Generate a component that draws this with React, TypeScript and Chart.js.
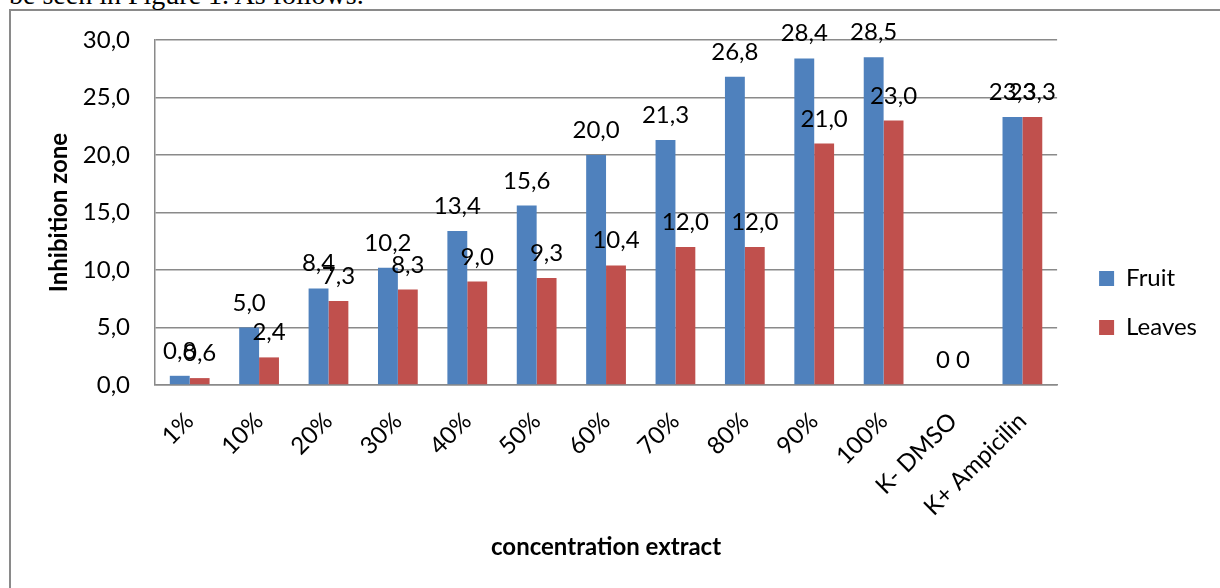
import React, { useEffect, useRef } from 'react';
import { Chart, registerables } from 'chart.js';

Chart.register(...registerables);

const categories = ['1%', '10%', '20%', '30%', '40%', '50%', '60%', '70%', '80%', '90%', '100%', 'K- DMSO', 'K+ Ampicilin'];
const fruitValues = [0.8, 5.0, 8.4, 10.2, 13.4, 15.6, 20.0, 21.3, 26.8, 28.4, 28.5, 0, 23.3];
const leavesValues = [0.6, 2.4, 7.3, 8.3, 9.0, 9.3, 10.4, 12.0, 12.0, 21.0, 23.0, 0, 23.3];
const seriesNames = ['Fruit', 'Leaves'];
const seriesColors = ['#4F81BD', '#C0504D'];
const yMin = 0;
const yMax = 30;
const yStep = 5;
const yTitle = 'Inhibition zone';
const xTitle = 'concentration extract';
const captionText = 'be seen in Figure 1. As follows.';

const FONT = 'Lato, "Open Sans", sans-serif';
const GRID = '#8a8a8a';

const fmt = (v: number) => (v === 0 ? '0' : v.toFixed(1).replace('.', ','));

const dataLabels = {
  id: 'dataLabels',
  afterDatasetsDraw(chart: any) {
    const ctx = chart.ctx;
    ctx.save();
    ctx.font = `24px ${FONT}`;
    ctx.fillStyle = '#000';
    ctx.textAlign = 'center';
    ctx.textBaseline = 'alphabetic';
    chart.data.datasets.forEach((ds: any, di: number) => {
      const meta = chart.getDatasetMeta(di);
      meta.data.forEach((el: any, i: number) => {
        ctx.fillText(fmt(ds.data[i]), el.x, el.y - 17);
      });
    });
    ctx.restore();
  },
};

export default function App() {
  const ref = useRef<HTMLCanvasElement | null>(null);

  useEffect(() => {
    if (!ref.current) return;
    const chart = new Chart(ref.current, {
      type: 'bar',
      data: {
        labels: categories,
        datasets: [
          { label: seriesNames[0], data: fruitValues, backgroundColor: seriesColors[0], categoryPercentage: 0.573, barPercentage: 1 },
          { label: seriesNames[1], data: leavesValues, backgroundColor: seriesColors[1], categoryPercentage: 0.573, barPercentage: 1 },
        ],
      },
      options: {
        animation: false,
        responsive: false,
        maintainAspectRatio: false,
        layout: { padding: { left: 0, right: 13, top: 29, bottom: 22 } },
        plugins: {
          legend: {
            position: 'right',
            align: 'center',
            labels: {
              boxWidth: 15,
              boxHeight: 15,
              padding: 25,
              color: '#000',
              font: { family: FONT, size: 24 },
            },
          },
          tooltip: { enabled: false },
        },
        scales: {
          x: {
            grid: { display: false, drawTicks: false },
            border: { display: true, color: GRID, width: 1.5 },
            ticks: {
              autoSkip: false,
              maxRotation: 45,
              minRotation: 45,
              padding: 22,
              color: '#000',
              font: { family: FONT, size: 24 },
            },
            title: {
              display: true,
              text: xTitle,
              color: '#000',
              font: { family: FONT, size: 24, weight: 'bold' },
              padding: { top: 0, bottom: 4.6 },
            },
            afterFit: (s: any) => { s.height = 181; },
          },
          y: {
            min: yMin,
            max: yMax,
            ticks: {
              stepSize: yStep,
              padding: 0,
              color: '#000',
              font: { family: FONT, size: 24 },
              callback: (v: any) => Number(v).toFixed(1).replace('.', ','),
            },
            grid: { color: GRID, lineWidth: 1.5, drawTicks: true, tickLength: 25, tickColor: 'rgba(0,0,0,0)' },
            border: { display: true, color: GRID, width: 1.5 },
            title: {
              display: true,
              text: yTitle,
              color: '#000',
              font: { family: FONT, size: 24, weight: 'bold' },
              padding: { top: 33.6, bottom: 0 },
            },
            afterFit: (s: any) => { s.width = 144; },
          },
          gap: {
            type: 'linear',
            position: 'right',
            display: true,
            grid: { display: false, drawTicks: false },
            ticks: { display: false },
            border: { display: false },
            afterFit: (s: any) => { s.width = 17; },
          },
        },
      } as any,
      plugins: [dataLabels],
    });
    return () => chart.destroy();
  }, []);

  return (
    <div style={{ position: 'absolute', left: 0, top: 0, width: 1220, height: 588, overflow: 'hidden', background: '#fff' }}>
      <div
        style={{
          position: 'absolute',
          left: 9,
          top: 9,
          width: 1211,
          height: 579,
          boxSizing: 'border-box',
          borderTop: `2px solid ${GRID}`,
          borderLeft: `2px solid ${GRID}`,
          background: '#fff',
        }}
      >
        <canvas ref={ref} width={1209} height={577} style={{ display: 'block' }} />
      </div>
      <div
        style={{
          position: 'absolute',
          left: 9,
          top: -21,
          fontFamily: '"Liberation Serif", "Times New Roman", serif',
          fontSize: 28,
          lineHeight: 'normal',
          whiteSpace: 'nowrap',
          color: '#000',
        }}
      >
        {captionText}
      </div>
    </div>
  );
}
